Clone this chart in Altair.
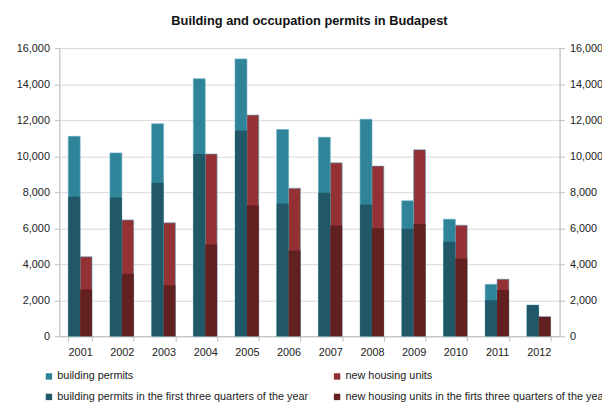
import altair as alt
import pandas as pd

years = ["2001", "2002", "2003", "2004", "2005", "2006", "2007", "2008", "2009", "2010", "2011", "2012"]
building_permits = [11100, 10180, 11800, 14300, 15400, 11480, 11050, 12050, 7520, 6500, 2880, 1730]
building_permits_3q = [7750, 7700, 8520, 10120, 11420, 7370, 7970, 7320, 5970, 5250, 2000, 1730]
housing_units = [4420, 6460, 6300, 10120, 12280, 8220, 9630, 9450, 10360, 6170, 3170, 1080]
housing_units_3q = [2590, 3470, 2830, 5090, 7260, 4760, 6150, 6000, 6240, 4320, 2570, 1080]

labels = [
    "building permits",
    "new housing units",
    "building permits in the first three quarters of the year",
    "new housing units in the firts three quarters of the year",
]
colors = ["#2F849A", "#943134", "#215867", "#632020"]

rows = []
for i, y in enumerate(years):
    rows.append({"year": y, "group": "bp", "part": "full", "label": labels[0], "value": building_permits[i]})
    rows.append({"year": y, "group": "hu", "part": "full", "label": labels[1], "value": housing_units[i]})
    rows.append({"year": y, "group": "bp", "part": "q3", "label": labels[2], "value": building_permits_3q[i]})
    rows.append({"year": y, "group": "hu", "part": "q3", "label": labels[3], "value": housing_units_3q[i]})
df = pd.DataFrame(rows)

FONT = "Liberation Sans"
ticks = [0, 2000, 4000, 6000, 8000, 10000, 12000, 14000, 16000]

x_enc = alt.X(
    "year:N",
    scale=alt.Scale(paddingInner=0.43, paddingOuter=0.215),
    axis=alt.Axis(
        title=None, labelAngle=0, labelFontSize=11, labelFont=FONT, labelColor="#222222",
        domainColor="#BFBFBF", tickColor="#BFBFBF", tickSize=5, tickBand="extent",
        labelPadding=6,
    ),
)
xo_enc = alt.XOffset("group:N", scale=alt.Scale(domain=["bp", "hu"], paddingInner=0, paddingOuter=0))
color_enc = alt.Color(
    "label:N",
    scale=alt.Scale(domain=labels, range=colors),
    legend=alt.Legend(
        title=None, orient="none", legendX=-16, legendY=327, columns=2, direction="horizontal",
        symbolType="square", symbolSize=42, symbolStrokeWidth=0, labelFontSize=11, labelFont=FONT,
        labelColor="#222222", labelLimit=400, columnPadding=23, rowPadding=9, labelOffset=3,
        padding=0,
    ),
)

base = alt.Chart(df)

full = base.transform_filter(alt.datum.part == "full").mark_bar(
    stroke="#5FA9BC", strokeWidth=0.6
).encode(
    x=x_enc,
    xOffset=xo_enc,
    y=alt.Y(
        "value:Q", stack=None,
        scale=alt.Scale(domain=[0, 16000], nice=False),
        axis=alt.Axis(
            title=None, values=ticks, format=",.0f", grid=True, gridColor="#D9D9D9",
            domainColor="#BFBFBF", tickColor="#BFBFBF", tickSize=5, labelFontSize=11,
            labelFont=FONT, labelColor="#222222", labelPadding=5,
        ),
    ),
    color=color_enc,
)

q3 = base.transform_filter(alt.datum.part == "q3").mark_bar().encode(
    x=x_enc,
    xOffset=xo_enc,
    y=alt.Y(
        "value:Q", stack=None,
        scale=alt.Scale(domain=[0, 16000], nice=False),
        axis=alt.Axis(
            title=None, values=ticks, format=",.0f", grid=False, orient="right",
            domainColor="#BFBFBF", tickColor="#BFBFBF", tickSize=5, labelFontSize=11,
            labelFont=FONT, labelColor="#222222", labelPadding=5,
        ),
    ),
    color=color_enc,
)

chart = alt.layer(full, q3).resolve_scale(y="independent").properties(
    width=507,
    height=292,
    autosize=alt.AutoSizeParams(type="none"),
    padding={"left": 52, "top": 38, "right": 43, "bottom": 66},
    title=alt.TitleParams(
        "Building and occupation permits in Budapest", fontSize=13, fontWeight="bold",
        anchor="middle", offset=14, font=FONT, color="#111111",
    ),
).configure_view(stroke=None).configure(background="white")

chart.save("out.html", embed_options={"renderer": "svg", "actions": False})
